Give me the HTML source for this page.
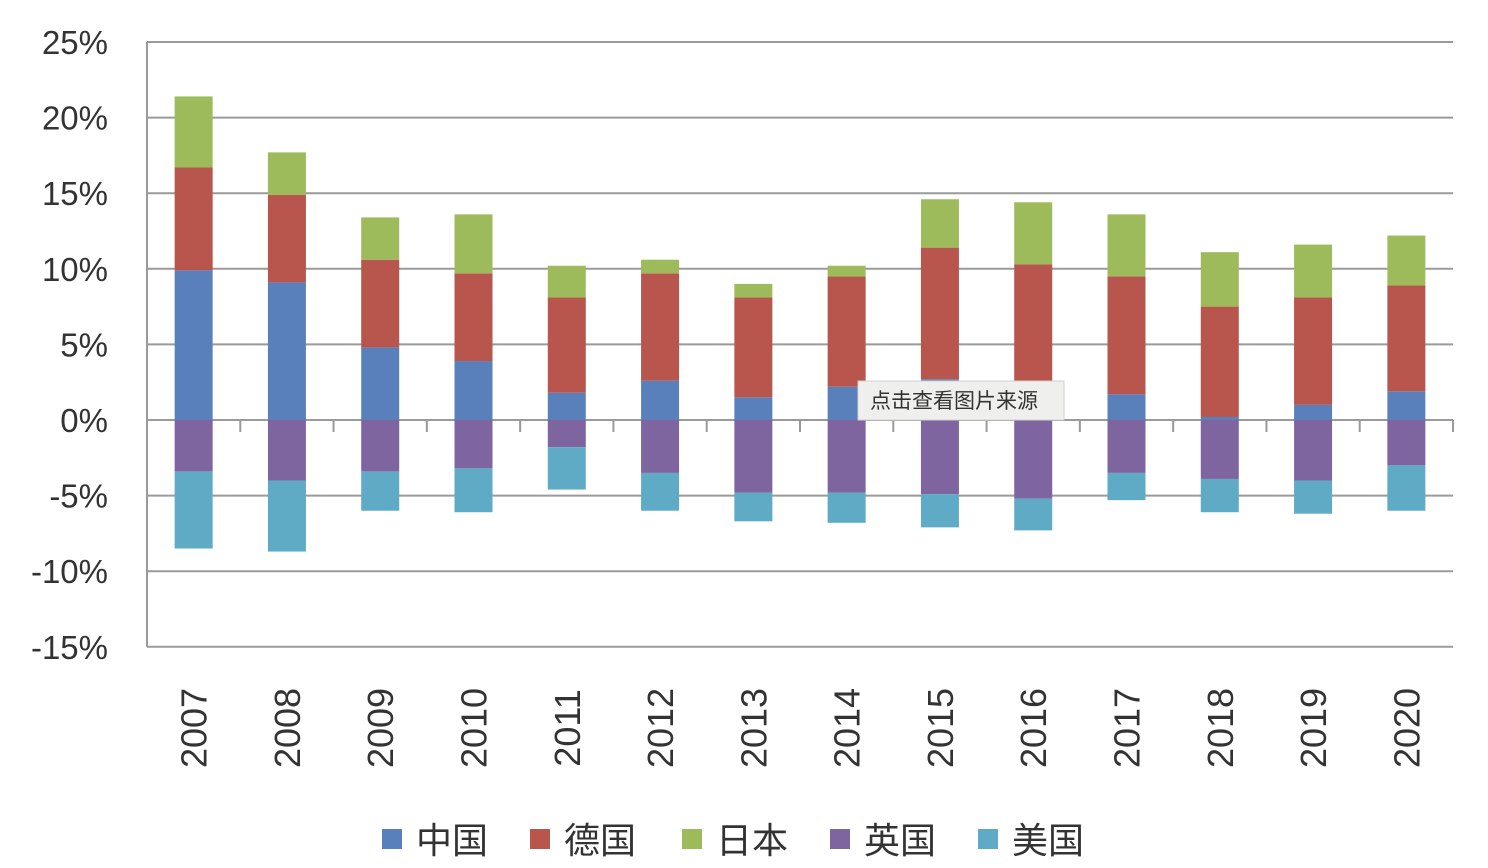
<!DOCTYPE html>
<html><head><meta charset="utf-8"><style>
body{margin:0;background:#fff;}
svg{display:block;font-family:"Liberation Sans","Noto Sans CJK SC",sans-serif;}
</style></head><body>
<svg id="chart" width="1488" height="868"></svg>
<script>
const years=["2007","2008","2009","2010","2011","2012","2013","2014","2015","2016","2017","2018","2019","2020"];
const china=[9.9,9.1,4.8,3.9,1.8,2.6,1.5,2.2,2.7,2.0,1.7,0.2,1.0,1.9];
const germany=[6.8,5.8,5.8,5.8,6.3,7.1,6.6,7.3,8.7,8.3,7.8,7.3,7.1,7.0];
const japan=[4.7,2.8,2.8,3.9,2.1,0.9,0.9,0.7,3.2,4.1,4.1,3.6,3.5,3.3];
const uk=[-3.4,-4.0,-3.4,-3.2,-1.8,-3.5,-4.8,-4.8,-4.9,-5.2,-3.5,-3.9,-4.0,-3.0];
const us=[-5.1,-4.7,-2.6,-2.9,-2.8,-2.5,-1.9,-2.0,-2.2,-2.1,-1.8,-2.2,-2.2,-3.0];
const yTicks=[25,20,15,10,5,0,-5,-10,-15];
const seriesNames=["中国","德国","日本","英国","美国"];
const colors=["#5a80bb","#b8554d","#9ebb5b","#7f65a0","#5fabc6"];

const svg=document.getElementById('chart');
const NS='http://www.w3.org/2000/svg';
function mk(t,a){const e=document.createElementNS(NS,t);for(const k in a)e.setAttribute(k,a[k]);svg.appendChild(e);return e;}
const x0=147,x1=1453;
function y(v){return 420-v*15.12;}
const step=(x1-x0)/years.length;
function xc(i){return x0+step*(i+0.5);}
const bw=38;

yTicks.forEach(t=>{
  const l=mk('line',{x1:x0,x2:x1,y1:y(t),y2:y(t),stroke:'#9a9a9a','stroke-width':2});
  
  
  const tx=mk('text',{x:108,y:y(t)+12,'text-anchor':'end','font-size':33,fill:'#333'});
  tx.textContent=t+'%';
  
  
});
const ax=mk('line',{x1:x0,x2:x0,y1:y(25),y2:y(-15),stroke:'#9a9a9a','stroke-width':2});


for(let i=0;i<=years.length;i++){
  const tk=mk('line',{x1:x0+step*i,x2:x0+step*i,y1:420,y2:432,stroke:'#9a9a9a','stroke-width':2});
  
  
}
function bar(i,a,b,c,name){
  const top=y(Math.max(a,b)),bot=y(Math.min(a,b));
  const r=mk('rect',{x:xc(i)-bw/2,y:top,width:bw,height:bot-top,fill:c});
  
  
}
years.forEach((yr,i)=>{
  let p=0;
  [[china,0],[germany,1],[japan,2]].forEach(([arr,k])=>{bar(i,p,p+arr[i],colors[k],'bar-'+yr+'-'+k);p+=arr[i];});
  let n=0;
  [[uk,3],[us,4]].forEach(([arr,k])=>{bar(i,n,n+arr[i],colors[k],'bar-'+yr+'-'+k);n+=arr[i];});
  const t=mk('text',{x:0,y:0,'font-size':36,fill:'#333','text-anchor':'middle',transform:`translate(${xc(i)+13},728) rotate(-90)`});
  t.textContent=yr;
  
  
});
const tb=mk('rect',{x:858,y:381,width:206,height:39,fill:'#efefed',stroke:'#d0d0d0'});


const tt=mk('text',{x:870,y:408,'font-size':21,fill:'#333'});
tt.textContent='点击查看图片来源';


const lx=[382,530,682,830,978];
seriesNames.forEach((s,k)=>{
  const r=mk('rect',{x:lx[k],y:829,width:20,height:20,fill:colors[k]});
  
  
  const t=mk('text',{x:lx[k]+34,y:853,'font-size':36,fill:'#333'});
  t.textContent=s;
  
  
});
</script>
</body></html>
